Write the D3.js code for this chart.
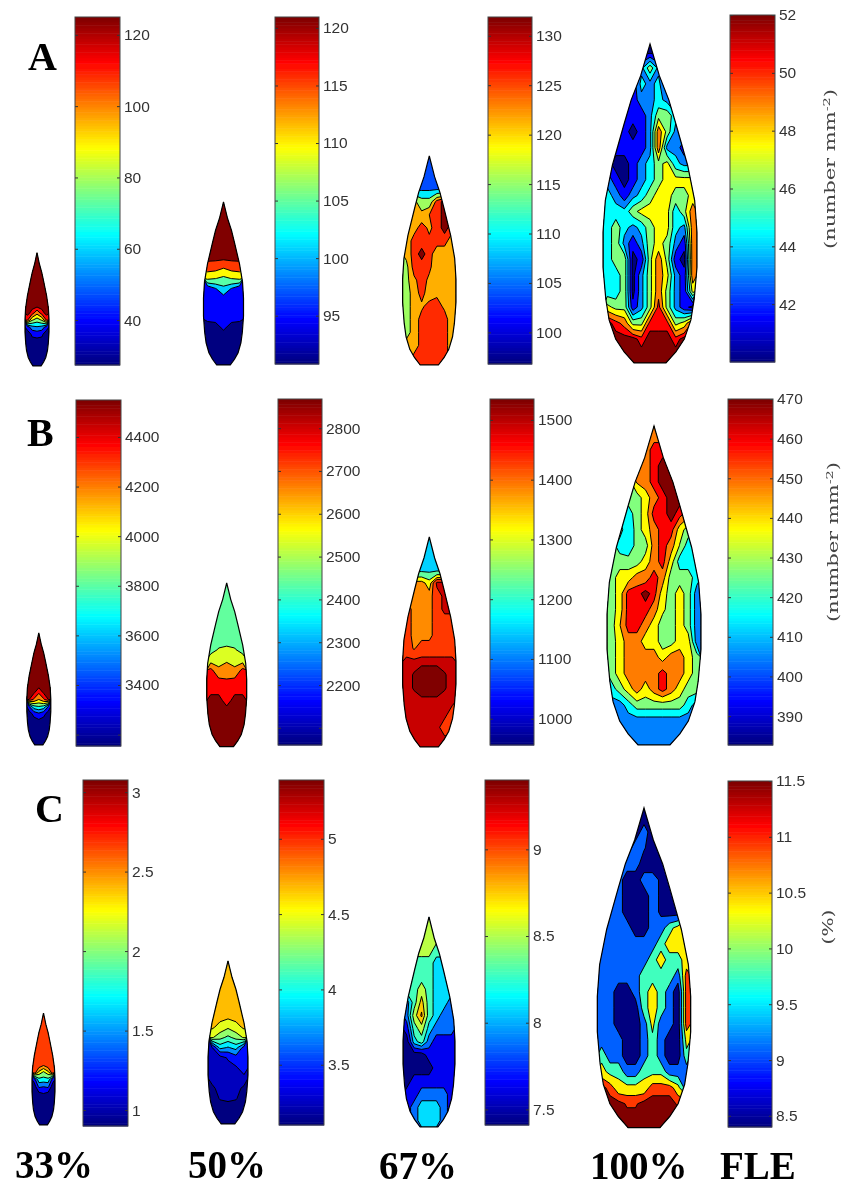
<!DOCTYPE html>
<html>
<head>
<meta charset="utf-8">
<script src="https://cdnjs.cloudflare.com/ajax/libs/d3/7.8.5/d3.min.js"></script>
<style>
  html, body { margin: 0; padding: 0; background: #fff; }
  svg { display: block; }
</style>
</head>
<body>
<svg id="chart"></svg>
<script>
// jet colormap stops
var jetStops = ["#000080", "#0000ff", "#0080ff", "#00ffff", "#80ff80", "#ffff00", "#ff8000", "#ff0000", "#800000"];

// leaf outline, tip to base: position along the leaf and half width
var outlinePos = [0, 0.05, 0.1, 0.175, 0.25, 0.38, 0.49, 0.59, 0.70, 0.80, 0.865, 0.925, 0.965, 1];
var outlineWidth = [0, 0.1, 0.2, 0.4, 0.55, 0.8, 0.95, 1, 1, 0.94, 0.87, 0.73, 0.55, 0.34];

// colorbar ranges (bottom, top) and tick values
var barA33 = [27.4, 125], ticksA33 = [40, 60, 80, 100, 120];
var barA50 = [90.8, 120.95], ticksA50 = [95, 100, 105, 110, 115, 120];
var barA67 = [96.8, 131.9], ticksA67 = [100, 105, 110, 115, 120, 125, 130];
var barA100 = [40, 52], ticksA100 = [42, 44, 46, 48, 50, 52];
var barB33 = [3154, 4549], ticksB33 = [3200, 3400, 3600, 3800, 4000, 4200, 4400];
var barB50 = [2060, 2868], ticksB50 = [2100, 2200, 2300, 2400, 2500, 2600, 2700, 2800];
var barB67 = [956, 1535], ticksB67 = [1000, 1100, 1200, 1300, 1400, 1500];
var barB100 = [382.7, 470], ticksB100 = [390, 400, 410, 420, 430, 440, 450, 460, 470];
var barC33 = [0.9, 3.076], ticksC33 = [1, 1.5, 2, 2.5, 3];
var barC50 = [3.1, 5.39], ticksC50 = [3.5, 4, 4.5, 5];
var barC67 = [7.41, 9.4], ticksC67 = [7.5, 8, 8.5, 9];
var barC100 = [8.4, 11.5], ticksC100 = [8.5, 9, 9.5, 10, 10.5, 11, 11.5];
var unlabelledTicks = [3200, 2100];

// contour levels of each leaf
var levelsA33 = [27.4, 39.6, 51.8, 64, 76.2, 88.4, 100.6, 112.8, 121.5];
var levelsA50 = [90.8, 94.7, 100.7, 104.7, 109.8, 115.5, 120];
var levelsA67 = [103.8, 109.4, 115.4, 121.5, 126, 130.2];
var levelsA100 = [40, 41.5, 43, 44.5, 46, 47.5, 49, 50.5, 51.5];
var levelsB33 = [3154, 3328, 3503, 3677, 3852, 4026, 4200, 4375, 4500];
var levelsB50 = [2440, 2537, 2658, 2763, 2840];
var levelsB67 = [1147, 1228, 1315, 1384, 1431, 1494, 1518];
var levelsB100 = [382.7, 393.7, 404.6, 415.6, 426.5, 437.5, 448.5, 459.4, 467];
var levelsC33 = [0.9, 1.17, 1.44, 1.72, 1.99, 2.26, 2.47, 2.68];
var levelsC50 = [3.1, 3.24, 3.42, 3.7, 3.92, 4.11, 4.29, 4.47, 4.68];
var levelsC67 = [7.41, 7.63, 7.87, 8.09, 8.29, 8.52, 8.76, 8.96];
var levelsC100 = [8.4, 9.08, 9.76, 10.38, 10.94, 11.35];

var gridA33 = [
  [125,125,125,125,125],[125,125,125,125,125],[125,125,125,125,125],[125,125,125,125,125],
  [125,125,125,125,125],[125,125,125,125,125],[125,125,125,125,125],[125,125,125,125,125],
  [125,118,105,118,125],[115,90,82,90,115],[45,60,63,60,45],[33,42,44,42,33],
  [33,36,36,36,33],[33,33,33,33,33],[33,33,33,33,33],[33,33,33,33,33]
];
var gridA50 = [
  [120.95,120.95,120.95,120.95,120.95],[120.95,120.95,120.95,120.95,120.95],[120.95,120.95,120.95,120.95,120.95],
  [120.95,120.95,120.95,120.95,120.95],[120.95,120.95,120.95,120.95,120.95],[120.95,120.95,120.95,120.95,120.95],
  [118,117.5,115.5,117.5,118],[111,110,108.5,110,111],[97,100.5,103.5,100.5,97],[97,97,99,97,97],
  [97,97,97,97,97],[95.5,96,97,96,95.5],[92,92,95,92,92],[92,92,92,92,92],[92,92,92,92,92],[92,92,92,92,92]
];
var gridA67 = [
  [106,106,106,106,106,106,106],
  [106,106,106,106,106,106,106],
  [108,108,108,108,108,108,108],
  [123,123,118,118,128,131.9,131.9],
  [123,123,123,126,128,131.9,131.9],
  [123,124,128,125,128,131.9,128],
  [123,128,128,127,128,128,123],
  [123,128,131.9,128,123,123,123],
  [120,128,128,127,123,123,123],
  [120,125,128,125,123,123,123],
  [120,123,128,123,125,123,123],
  [120,123,125,128,128,125,123],
  [120,123,128,128,128,128,123],
  [120,123,128,128,128,128,123],
  [123,123,128,128,128,128,123],
  [123,128,128,128,128,128,123]
];
var gridA100 = [
  [41,41,41,41,41,41,41,41,41,41,41],
  [41,41,41,41,44,47,44,41,41,41,41],
  [41,41,41,42,45,44,45,42,41,41,41],
  [44,44,44,42,44,44,45,44,42,42,42],
  [42,42,42,42,42,44,47,47,45,44,44],
  [42,42,42,41,42,44,50,47,44,44,42],
  [42,42,42,42,42,44,50,44,44,42,42],
  [42,41,41,42,44,45,47,48,45,44,44],
  [44,42,41,42,44,45,47,48,48,48,48],
  [45,44,42,44,45,47,48,48,47,47,48],
  [45,45,45,47,48,48,48,48,45,47,50],
  [45,47,45,44,45,47,48,48,45,44,50],
  [45,47,44,42,44,47,48,47,44,42,50],
  [45,47,47,41,42,47,50,47,42,41,50],
  [45,45,47,41,44,47,50,48,44,42,50],
  [45,45,47,41,44,47,50,47,44,42,48],
  [48,47,47,42,44,47,51,47,44,42,41],
  [52,51,50,47,47,51,51,51,47,48,51],
  [52,52,52,52,51,52,52,52,51,52,52],
  [52,52,52,52,52,52,52,52,52,52,52]
];
var gridB33 = [
  [4549,4549,4549,4549,4549],[4549,4549,4549,4549,4549],[4549,4549,4549,4549,4549],[4549,4549,4549,4549,4549],
  [4549,4549,4549,4549,4549],[4549,4549,4549,4549,4549],[4549,4549,4549,4549,4549],[4549,4549,4549,4549,4549],
  [4549,4520,4400,4520,4549],[4500,4350,4200,4350,4500],[3500,3800,3850,3800,3500],[3240,3400,3480,3400,3240],
  [3240,3260,3300,3260,3240],[3240,3240,3240,3240,3240],[3240,3240,3240,3240,3240],[3240,3240,3240,3240,3240]
];
var gridB50 = [
  [2490,2490,2490,2490,2490],[2490,2490,2490,2490,2490],[2490,2490,2490,2490,2490],
  [2490,2490,2490,2490,2490],[2490,2490,2490,2490,2490],[2490,2490,2490,2490,2490],
  [2490,2545,2560,2545,2490],[2600,2610,2640,2610,2600],[2790,2680,2710,2680,2790],
  [2800,2785,2770,2785,2800],[2820,2820,2800,2820,2820],[2868,2868,2810,2868,2868],
  [2868,2868,2868,2868,2868],[2868,2868,2868,2868,2868],[2868,2868,2868,2868,2868],[2868,2868,2868,2868,2868]
];
var gridB67 = [
  [1190,1190,1190,1190,1190,1190,1190],
  [1190,1190,1190,1190,1190,1190,1190],
  [1200,1200,1200,1200,1200,1200,1200],
  [1410,1410,1410,1350,1510,1510,1510],
  [1410,1410,1410,1410,1465,1510,1510],
  [1465,1410,1410,1410,1465,1510,1510],
  [1465,1410,1410,1410,1465,1465,1465],
  [1465,1410,1410,1410,1465,1465,1465],
  [1465,1425,1465,1465,1465,1465,1465],
  [1510,1510,1510,1510,1510,1510,1510],
  [1510,1520,1535,1535,1535,1520,1510],
  [1510,1520,1535,1535,1535,1520,1510],
  [1510,1510,1510,1510,1510,1510,1510],
  [1510,1510,1510,1510,1510,1510,1465],
  [1510,1510,1510,1510,1510,1465,1465],
  [1510,1510,1510,1510,1510,1510,1510]
];
var gridB100 = [
  [454,454,454,454,454,454,454,454,454,454,454],
  [454,454,454,454,454,464,464,454,454,454,454],
  [454,454,454,454,454,464,470,470,454,454,454],
  [432,432,432,450,454,464,470,470,470,454,454],
  [432,432,432,432,443,454,464,470,470,454,454],
  [421,421,421,432,443,464,464,470,464,454,443],
  [432,432,416,432,443,454,464,464,443,432,432],
  [432,421,416,432,432,454,464,454,437,421,421],
  [432,432,432,432,443,454,464,443,421,421,421],
  [432,443,443,454,454,464,454,432,432,432,421],
  [432,443,464,464,470,464,443,432,443,432,410],
  [432,443,464,464,464,454,440,432,443,432,410],
  [432,448,464,464,454,443,432,432,443,432,410],
  [432,443,454,454,443,443,432,432,443,443,410],
  [432,443,454,454,454,454,443,454,454,443,432],
  [432,443,454,454,454,454,464,454,454,443,432],
  [421,432,443,454,443,454,464,454,443,432,432],
  [410,410,421,432,432,432,432,432,432,421,410],
  [410,410,410,410,410,410,410,410,410,410,410],
  [410,410,410,410,410,410,410,410,410,410,410]
];
var gridC33 = [
  [2.9,2.9,2.9,2.9,2.9],[2.9,2.9,2.9,2.9,2.9],[2.9,2.9,2.9,2.9,2.9],[2.9,2.9,2.9,2.9,2.9],
  [2.9,2.9,2.9,2.9,2.9],[2.9,2.9,2.9,2.9,2.9],[2.9,2.9,2.9,2.9,2.9],
  [2.9,2.8,2.68,2.8,2.9],[2.8,2.4,2.2,2.4,2.8],[1.3,1.9,1.88,1.9,1.3],[1.03,1.5,1.45,1.5,1.03],
  [1.03,1.1,1.17,1.1,1.03],[1.03,1.03,1.03,1.03,1.03],[1.03,1.03,1.03,1.03,1.03],
  [1.03,1.03,1.03,1.03,1.03],[1.03,1.03,1.03,1.03,1.03]
];
var gridC50 = [
  [4.9,4.9,4.9,4.9,4.9],[4.9,4.9,4.9,4.9,4.9],[4.9,4.9,4.9,4.9,4.9],[4.9,4.9,4.9,4.9,4.9],[4.9,4.9,4.9,4.9,4.9],
  [4.9,4.75,4.72,4.75,4.9],[4.72,4.6,4.5,4.6,4.72],[4.5,4.35,4.25,4.35,4.5],[3.4,4.0,3.9,4.0,3.6],
  [3.3,3.3,3.45,3.6,3.6],[3.3,3.3,3.33,3.38,3.55],[3.3,3.3,3.3,3.3,3.35],[3.2,3.3,3.3,3.3,3.2],
  [3.17,3.25,3.27,3.25,3.17],[3.17,3.17,3.17,3.17,3.17],[3.17,3.17,3.17,3.17,3.17]
];
var gridC67 = [
  [8.65,8.65,8.65,8.65,8.65,8.65,8.65],
  [8.65,8.65,8.65,8.65,8.65,8.65,8.65],
  [8.65,8.65,8.65,8.65,8.4,8.4,8.4],
  [8.4,8.4,8.4,8.4,8.2,8.2,8.2],
  [8.4,8.4,8.4,8.4,8.2,8.2,8.2],
  [8.4,8.4,8.65,8.4,8.2,8.2,8.2],
  [7.98,8.4,8.85,8.4,8.2,8.2,7.98],
  [7.98,8.65,9,8.4,8.2,7.98,7.98],
  [7.75,8.4,8.65,8.2,7.98,7.98,7.98],
  [7.5,8.2,8.4,7.98,7.75,7.75,7.75],
  [7.5,7.5,7.5,7.75,7.75,7.75,7.75],
  [7.5,7.5,7.5,7.5,7.75,7.75,7.75],
  [7.5,7.75,7.75,7.75,7.75,7.75,7.75],
  [7.75,7.75,7.98,7.98,7.98,7.98,7.75],
  [7.75,7.98,8.2,8.2,8.2,7.98,7.75],
  [7.75,7.98,8.2,8.2,8.2,7.98,7.75]
];
var gridC100 = [
  [8.7,8.7,8.7,8.7,8.7,8.7,8.7,8.7,8.7,8.7,8.7],
  [8.7,8.7,8.7,8.7,8.7,9.4,8.7,8.7,8.7,8.7,8.7],
  [8.7,8.7,8.7,8.7,9.4,9.15,8.7,8.7,8.7,8.7,8.7],
  [9.4,9.4,9.4,9.4,9.4,8.7,8.7,8.7,8.7,8.7,8.7],
  [9.4,9.4,9.4,8.7,8.7,9.4,9.4,8.95,8.7,8.7,8.7],
  [9.4,9.4,9.4,8.7,8.7,8.7,9.4,8.95,8.7,8.7,8.7],
  [9.4,9.4,9.4,8.7,8.7,8.7,9.4,8.95,8.7,8.7,10.2],
  [9.4,9.4,9.4,9.4,8.7,8.7,9.4,9.4,10.2,10.6,10.6],
  [9.4,9.4,9.4,9.4,9.4,9.4,9.4,10.2,10.6,10.6,10.6],
  [9.4,9.4,9.4,9.4,9.4,9.4,10.2,10.6,10.2,10.2,10.6],
  [9.4,9.4,9.4,9.4,9.4,10.2,10.2,10.2,10.2,9.4,11.2],
  [9.4,9.4,8.7,8.7,9.4,10.2,10.6,10.2,9.4,8.7,11.2],
  [9.4,9.4,8.7,8.7,8.7,10.2,10.6,10.2,9.4,8.7,11.2],
  [9.4,9.4,8.7,8.7,8.7,9.4,10.6,9.4,9.4,8.7,11.2],
  [9.4,9.4,9.4,8.7,8.7,9.4,10.2,9.4,8.7,8.7,10.6],
  [10.2,9.4,9.4,8.7,8.7,9.4,10.2,9.4,8.7,8.7,10.2],
  [10.6,10.2,10.2,9.4,9.4,10.2,10.2,10.2,9.4,9.4,9.4],
  [11.5,11.2,10.6,10.6,10.6,10.6,11.2,11.2,11.2,10.6,9.4],
  [11.5,11.5,11.5,11.3,11.3,11.5,11.5,11.5,11.5,11.3,11.5],
  [11.5,11.5,11.5,11.5,11.5,11.5,11.5,11.5,11.5,11.5,11.5]
];

// text
var rowLetters = ["A", "B", "C"];
var columnLabels = ["33%", "50%", "67%", "100%", "FLE"];

// layout: leaf [centre, half width, tip, base], colorbar [left, right, top, bottom]
var panels = [
  { leaf: [37, 12, 252.7, 366], box: [75, 120, 17, 365], bar: barA33, ticks: ticksA33, levels: levelsA33, grid: gridA33 },
  { leaf: [223.5, 20, 202, 365], box: [275, 319, 17, 364], bar: barA50, ticks: ticksA50, levels: levelsA50, grid: gridA50 },
  { leaf: [429.3, 26.7, 156, 365], box: [488, 532, 17, 364], bar: barA67, ticks: ticksA67, levels: levelsA67, grid: gridA67 },
  { leaf: [650, 47, 44, 363], box: [730, 775, 15, 362], bar: barA100, ticks: ticksA100, levels: levelsA100, grid: gridA100 },
  { leaf: [38.8, 12, 633, 745], box: [76, 121, 400, 746], bar: barB33, ticks: ticksB33, levels: levelsB33, grid: gridB33 },
  { leaf: [226.7, 20, 583, 746.7], box: [278, 322, 399, 745], bar: barB50, ticks: ticksB50, levels: levelsB50, grid: gridB50 },
  { leaf: [429.3, 26.7, 537, 747], box: [490, 534, 399, 745], bar: barB67, ticks: ticksB67, levels: levelsB67, grid: gridB67 },
  { leaf: [654, 47, 426, 745], box: [728, 773, 399, 745], bar: barB100, ticks: ticksB100, levels: levelsB100, grid: gridB100 },
  { leaf: [43.5, 11.5, 1013, 1125], box: [83, 128, 780, 1126], bar: barC33, ticks: ticksC33, levels: levelsC33, grid: gridC33 },
  { leaf: [228, 20, 961, 1124], box: [279, 324, 780, 1125], bar: barC50, ticks: ticksC50, levels: levelsC50, grid: gridC50 },
  { leaf: [429, 26, 917, 1127], box: [485, 529, 780, 1125], bar: barC67, ticks: ticksC67, levels: levelsC67, grid: gridC67 },
  { leaf: [644, 46.7, 808, 1127.7], box: [728, 772, 781, 1127], bar: barC100, ticks: ticksC100, levels: levelsC100, grid: gridC100 }
];

var width = 845, height = 1188;

var jet = d3.scaleLinear()
    .domain(d3.range(jetStops.length).map(function(i) { return i / (jetStops.length - 1); }))
    .range(jetStops)
    .interpolate(d3.interpolateRgb);

var svg = d3.select("#chart")
    .attr("width", width)
    .attr("height", height);

svg.append("rect").attr("width", width).attr("height", height).attr("fill", "#fff");

// the source is a soft scan, so everything gets a slight blur
var defs = svg.append("defs");
defs.append("filter").attr("id", "soft")
    .attr("x", 0).attr("y", 0).attr("width", 1).attr("height", 1)
    .attr("filterUnits", "objectBoundingBox")
    .append("feGaussianBlur").attr("stdDeviation", 0.7);

var root = svg.append("g").attr("filter", "url(#soft)");
root.append("rect").attr("width", width).attr("height", height).attr("fill", "#fff");

function drawLeaf(p, i) {
    var cx = p.leaf[0], hw = p.leaf[1], tip = p.leaf[2], base = p.leaf[3];
    var rows = p.grid.length, cols = p.grid[0].length;

    var x = d3.scaleLinear().domain([0, cols]).range([cx - hw, cx + hw]);
    var y = d3.scaleLinear().domain([0, rows]).range([tip, base]);
    var t = d3.scaleLinear().domain(p.bar).range([0, 1]);

    var along = d3.scaleLinear().domain([0, 1]).range([tip, base]);
    var side = d3.scaleLinear().domain([0, 1]).range([0, hw]);

    var rightSide = outlinePos.map(function(v, k) { return [cx + side(outlineWidth[k]), along(v)]; });
    var leftSide = outlinePos.map(function(v, k) { return [cx - side(outlineWidth[k]), along(v)]; }).reverse();
    var outline = d3.line()(rightSide.concat(leftSide)) + "Z";

    defs.append("clipPath").attr("id", "leaf" + i).append("path").attr("d", outline);

    var contours = d3.contours().size([cols, rows]).thresholds(p.levels)(d3.merge(p.grid));
    var path = d3.geoPath(d3.geoTransform({
        point: function(px, py) { this.stream.point(x(px), y(py)); }
    }));

    var g = root.append("g").attr("clip-path", "url(#leaf" + i + ")");
    g.selectAll("path")
        .data(contours)
        .join("path")
        .attr("d", path)
        .attr("fill", function(d) { var v = t(d.value); return jet(v > 0.94 ? 1 : v); })
        .attr("stroke", "#000")
        .attr("stroke-width", 1)
        .attr("stroke-linejoin", "round");

    root.append("path")
        .attr("d", outline)
        .attr("fill", "none")
        .attr("stroke", "#000")
        .attr("stroke-width", 1.2);
}

function drawBar(p) {
    var left = p.box[0], right = p.box[1], top = p.box[2], bottom = p.box[3];
    var y = d3.scaleLinear().domain(p.bar).range([bottom, top]);

    var steps = d3.range(128);
    var g = root.append("g");
    g.selectAll("rect")
        .data(steps)
        .join("rect")
        .attr("x", left)
        .attr("width", right - left)
        .attr("y", function(d) { return bottom - (d + 1) * (bottom - top) / 128; })
        .attr("height", (bottom - top) / 128 + 0.5)
        .attr("fill", function(d) { return jet(d / 127); });

    // ticks point inward on both edges, labels on the right
    var axisR = d3.axisRight(y)
        .tickValues(p.ticks)
        .tickSize(-3)
        .tickFormat(function(v) { return unlabelledTicks.indexOf(v) >= 0 ? "" : String(v); });
    var axisL = d3.axisLeft(y).tickValues(p.ticks).tickSize(-3).tickFormat("");

    var ar = root.append("g").attr("transform", "translate(" + right + ",0)").call(axisR);
    var al = root.append("g").attr("transform", "translate(" + left + ",0)").call(axisL);
    [ar, al].forEach(function(a) {
        a.select(".domain").remove();
        a.selectAll("line").attr("stroke", "#333");
    });
    ar.selectAll("text")
        .attr("fill", "#333")
        .attr("x", 4)
        .style("font-family", "'Liberation Sans', Arial, sans-serif")
        .style("font-size", "15.5px");

    root.append("rect")
        .attr("x", left).attr("y", top)
        .attr("width", right - left).attr("height", bottom - top)
        .attr("fill", "none")
        .attr("stroke", "#444")
        .attr("stroke-width", 1);
}

panels.forEach(function(p, i) {
    drawLeaf(p, i);
    drawBar(p);
});

// row letters and column titles
var letterPos = [[28, 70], [27, 446], [35, 822]];
root.selectAll(".rowLetter")
    .data(rowLetters)
    .join("text")
    .attr("class", "rowLetter")
    .attr("x", function(d, i) { return letterPos[i][0]; })
    .attr("y", function(d, i) { return letterPos[i][1]; })
    .style("font-family", "'Liberation Serif', serif")
    .style("font-weight", "bold")
    .style("font-size", "40px")
    .text(function(d) { return d; });

var titlePos = [[15, 1178], [188, 1178], [379, 1179], [590, 1179], [720, 1179]];
root.selectAll(".colTitle")
    .data(columnLabels)
    .join("text")
    .attr("class", "colTitle")
    .attr("x", function(d, i) { return titlePos[i][0]; })
    .attr("y", function(d, i) { return titlePos[i][1]; })
    .style("font-family", "'Liberation Serif', serif")
    .style("font-weight", "bold")
    .style("font-size", "39px")
    .text(function(d) { return d; });

// rotated unit labels
function unitLabel(xIn, yIn, lengthIn, mainIn, supIn, tailIn) {
    var label = root.append("text")
        .attr("transform", "translate(" + xIn + "," + yIn + ") rotate(-90)")
        .attr("text-anchor", "middle")
        .attr("fill", "#444")
        .attr("textLength", lengthIn)
        .attr("lengthAdjust", "spacingAndGlyphs")
        .style("font-family", "'DejaVu Serif', serif")
        .style("font-size", "14.5px");
    label.append("tspan").text(mainIn);
    if (supIn) {
        label.append("tspan").attr("dy", -5).style("font-size", "10px").text(supIn);
        label.append("tspan").attr("dy", 5).text(tailIn);
    }
}
unitLabel(835, 169, 160, "(number mm", "-2", ")");
unitLabel(838, 542, 160, "(number mm", "-2", ")");
unitLabel(833, 927, 35, "(%)");
</script>
</body>
</html>
